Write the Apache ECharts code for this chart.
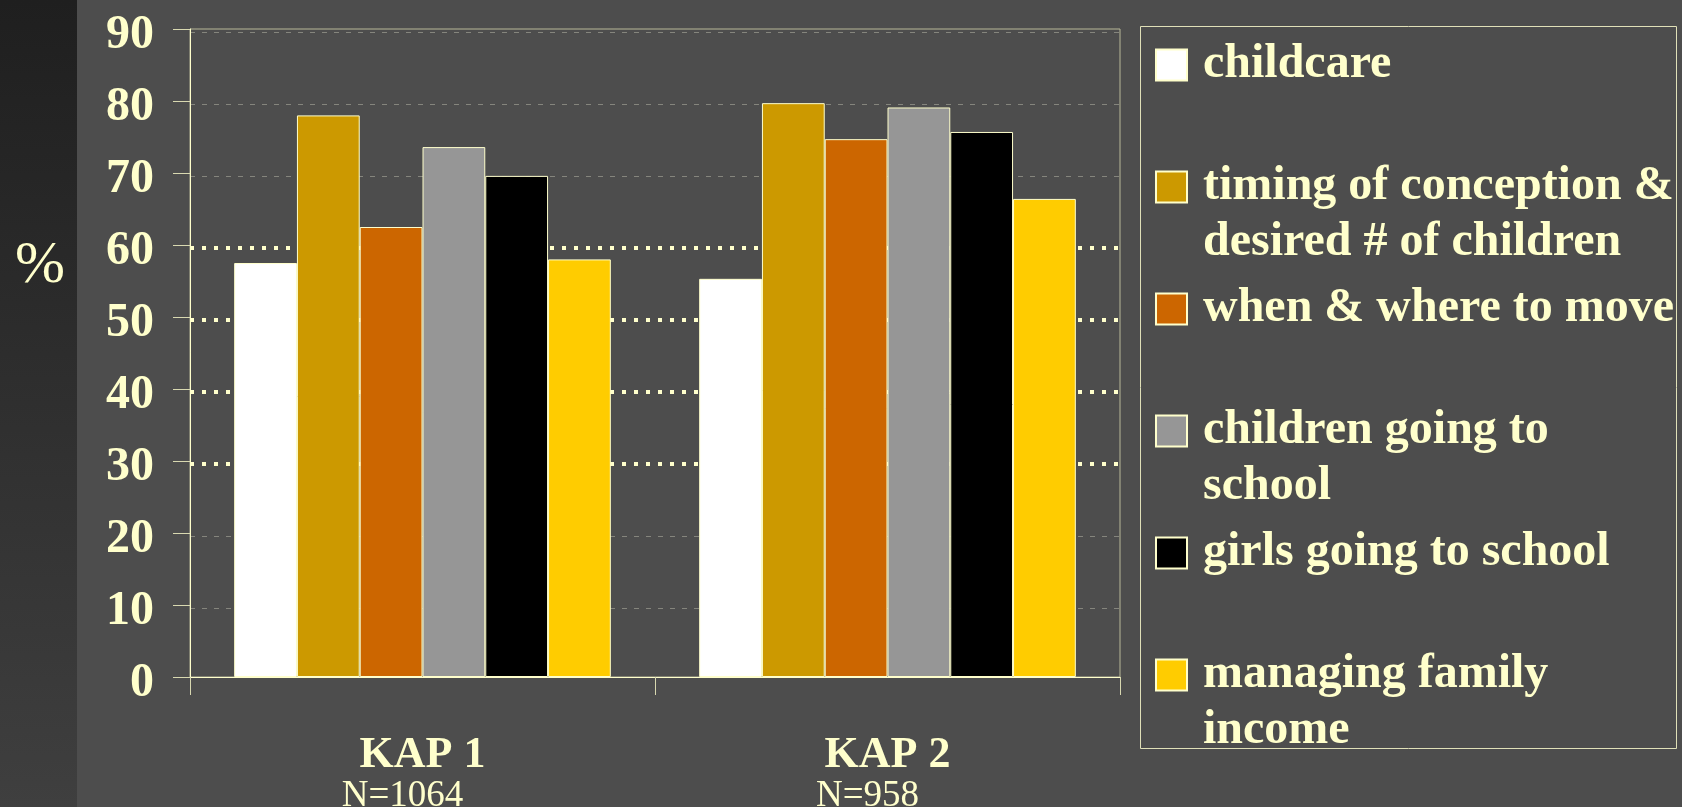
<!DOCTYPE html>
<html>
<head>
<meta charset="utf-8">
<script src="https://cdn.jsdelivr.net/npm/echarts@6/dist/echarts.min.js"></script>
<style>
html,body{margin:0;padding:0;background:#4d4d4d;}
#chart{width:1682px;height:807px;}
</style>
</head>
<body>
<div id="chart"></div>
<script>
var categories = ['KAP 1', 'KAP 2'];
var sampleSizes = ['N=1064', 'N=958'];
var seriesNames = [
  'childcare',
  'timing of conception &\ndesired # of children',
  'when & where to move',
  'children going to\nschool',
  'girls going to school',
  'managing family\nincome'
];
var seriesColors = ['#FFFFFF', '#CC9900', '#CC6600', '#969696', '#000000', '#FFCC00'];
var childcare = [57.5, 55.3];
var timingConception = [78.0, 79.7];
var whenWhereMove = [62.5, 74.7];
var childrenSchool = [73.6, 79.1];
var girlsSchool = [69.6, 75.7];
var familyIncome = [58.0, 66.4];
var yTicks = [0, 10, 20, 30, 40, 50, 60, 70, 80, 90];

var values = [childcare, timingConception, whenWhereMove, childrenSchool, girlsSchool, familyIncome];
var cream = '#FFFFCC';
var serif = "'Liberation Serif', 'Times New Roman', serif";
var none = 'rgba(0,0,0,0)';

var chart = echarts.init(document.getElementById('chart'));

var series = seriesNames.map(function (name, i) {
  return {
    name: name,
    type: 'bar',
    xAxisIndex: 0,
    yAxisIndex: 0,
    data: values[i],
    barGap: '0%',
    barCategoryGap: '19%',
    itemStyle: { color: seriesColors[i], borderColor: cream, borderWidth: 1 },
    emphasis: { disabled: true }
  };
});

// legend text: two-line names get a blank line on top so the icon sits by line 1
function legendText(name) {
  return name.indexOf('\n') >= 0 ? '\n' + name : name;
}

var option = {
  animation: false,
  backgroundColor: '#4d4d4d',
  graphic: [
    {
      type: 'rect', z: -10, silent: true,
      shape: { x: 0, y: 0, width: 77, height: 807 },
      style: {
        fill: new echarts.graphic.LinearGradient(0, 0, 0, 1, [
          { offset: 0, color: '#1f1f1f' }, { offset: 1, color: '#3f3f3f' }
        ])
      }
    },
    {
      type: 'text', silent: true,
      style: { text: '%', x: 40, y: 266, align: 'center', verticalAlign: 'middle',
        fill: cream, font: "60px 'Liberation Serif', 'Times New Roman', serif" }
    },
    {
      type: 'rect', silent: true, z: -5,
      shape: { x: 1140.5, y: 26.5, width: 536, height: 722 },
      style: { fill: none, stroke: '#E0E0B8', lineWidth: 1 }
    }
  ],
  legend: {
    orient: 'vertical',
    left: 1155,
    top: 37,
    height: 1000,
    padding: 0,
    itemGap: 10,
    itemWidth: 31,
    itemHeight: 31,
    icon: 'rect',
    selectedMode: false,
    data: seriesNames,
    formatter: legendText,
    textStyle: {
      color: cream, fontFamily: serif, fontWeight: 'bold', fontSize: 48,
      lineHeight: 56, padding: [0, 0, 0, 11]
    }
  },
  grid: [
    {
      left: 190, right: 562, top: 29, bottom: 130,
      outerBoundsMode: 'none', containLabel: false,
      show: true, borderColor: '#B8B898', borderWidth: 1, backgroundColor: none
    },
    {
      left: 190, right: 562, top: 32, bottom: 127,
      outerBoundsMode: 'none', containLabel: false, show: false
    }
  ],
  xAxis: [
    {
      type: 'category',
      gridIndex: 0,
      data: categories,
      axisLine: { show: true, lineStyle: { color: cream, width: 1 } },
      axisTick: { show: true, length: 18, lineStyle: { color: '#D8D8B0', width: 1 } },
      axisLabel: {
        margin: 58,
        formatter: function (v, i) {
          return '{a|' + v + '}\n{b|' + sampleSizes[i] + '}';
        },
        rich: {
          a: { color: cream, fontFamily: serif, fontWeight: 'bold', fontSize: 44, lineHeight: 42 },
          b: { color: cream, fontFamily: serif, fontSize: 37, lineHeight: 38, padding: [0, 40, 0, 0] }
        }
      },
      splitLine: { show: false }
    },
    {
      type: 'category', gridIndex: 1, data: categories, show: false
    }
  ],
  yAxis: [
    {
      type: 'value', gridIndex: 0, min: 0, max: 90, interval: 10,
      axisLine: { show: true, lineStyle: { color: cream, width: 1 } },
      axisTick: { show: true, inside: false, length: 17, lineStyle: { color: '#D8D8B0', width: 1 } },
      axisLabel: {
        margin: 36, color: cream, fontFamily: serif, fontWeight: 'bold', fontSize: 48,
        verticalAlign: 'top', lineHeight: 13,
        formatter: function (v) { return yTicks.indexOf(v) >= 0 ? String(v) : ''; }
      },
      splitLine: { show: false }
    },
    {
      type: 'value', gridIndex: 1, min: 0, max: 90, interval: 10,
      axisLine: { show: false }, axisTick: { show: false }, axisLabel: { show: false },
      splitLine: {
        show: true,
        lineStyle: {
          color: [none, '#85857d', '#85857d', none, none, none, none, '#85857d', '#85857d', '#85857d'],
          width: 1, type: [5, 7]
        }
      }
    },
    {
      type: 'value', gridIndex: 1, min: 0, max: 90, interval: 10,
      axisLine: { show: false }, axisTick: { show: false }, axisLabel: { show: false },
      splitLine: {
        show: true,
        lineStyle: {
          color: [none, none, none, cream, cream, cream, cream, none, none, none],
          width: 4, type: [4, 8]
        }
      }
    }
  ],
  series: series
};

chart.setOption(option);
</script>
</body>
</html>
